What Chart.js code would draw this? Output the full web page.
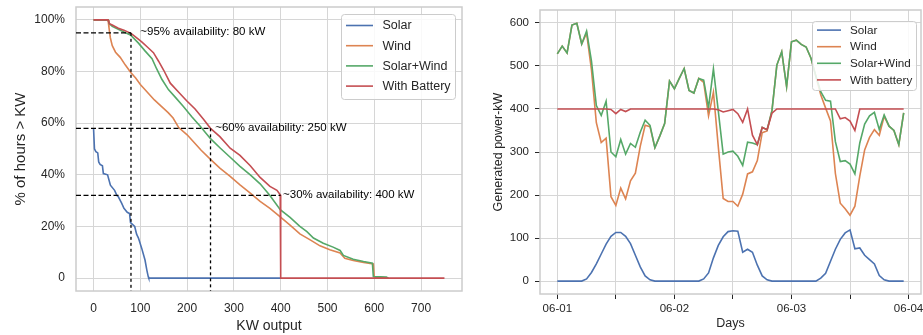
<!DOCTYPE html>
<html>
<head>
<meta charset="utf-8">
<script src="https://cdn.jsdelivr.net/npm/chart.js@4.4.1/dist/chart.umd.min.js"></script>
<style>
  html, body { margin: 0; padding: 0; background: #fff; }
  #wrap { position: relative; width: 923px; height: 335px; }
  #left { position: absolute; left: 0; top: 0; width: 470px; height: 335px; }
  #right { position: absolute; left: 470px; top: 0; width: 453px; height: 335px; }
</style>
</head>
<body>
<div id="wrap">
  <canvas id="left" width="470" height="335"></canvas>
  <canvas id="right" width="453" height="335"></canvas>
</div>
<script>
// ---- left: duration curves (kW output vs % of hours above it) ----
const solarKw  = [0, 2, 5, 9, 11, 14, 19, 21, 30, 33, 36, 45, 50, 53, 60, 65, 72, 77, 79, 88, 92, 96, 103, 110, 114, 117, 118, 400];
const solarPct = [58, 50, 49, 48.5, 45, 44, 43.5, 40.5, 40, 38, 36, 34, 32, 31.5, 29, 27, 25.5, 25, 21.5, 20, 17, 15.5, 11.5, 7, 3, 0.5, 0, 0];

const windKw  = [0, 31, 33, 36, 40, 47, 57, 68, 80, 90, 100, 115, 130, 145, 160, 170, 182, 200, 215, 230, 250, 270, 292, 313, 335, 356, 377, 399, 420, 441, 463, 484, 505, 527, 537, 555, 577, 598, 600, 630];
const windPct = [100, 100, 97, 93, 90, 87.5, 85.5, 82.5, 79.5, 77.5, 75, 72, 69, 66.5, 64, 62, 58.3, 55.5, 52.5, 49.5, 46, 42.6, 39.4, 36.1, 32.9, 29.7, 27, 23.7, 20.5, 17.1, 14.8, 12.5, 11, 9.7, 7.7, 6.8, 6.1, 5.5, 0.4, 0];

const solarWindKw  = [0, 31, 34, 40, 53, 65, 80, 96, 110, 125, 135, 146, 160, 175, 192, 210, 228, 250, 270, 292, 313, 335, 356, 377, 399, 420, 441, 456, 470, 491, 512, 527, 534, 555, 577, 596, 598, 626, 630];
const solarWindPct = [100, 100, 98.5, 97.5, 96.4, 95.3, 94, 91, 88, 85, 81, 77, 73, 70, 66.5, 62.5, 58.8, 54, 50.5, 46.8, 43.3, 40, 36.5, 32, 26.5, 23.5, 20, 18, 15.5, 13.5, 12, 10.7, 8.8, 7.3, 6.4, 5.8, 0.6, 0.4, 0];

const batteryKw  = [0, 31, 34, 40, 53, 65, 80, 89, 103, 115, 128, 139, 150, 164, 182, 199, 217, 235, 250, 270, 292, 313, 335, 356, 377, 392, 399, 400, 750];
const batteryPct = [100, 100, 98.5, 98, 96.8, 96, 94.8, 93.5, 91.5, 89.5, 87.3, 84, 80.5, 75.5, 72, 68.7, 65.5, 61.5, 58, 54.8, 50.3, 47.5, 43.5, 39, 35.5, 34, 32.3, 0, 0];

// availability guides
const guideKw   = [80, 250, 400];
const guidePct  = [95, 58, 32];
const guideDrop = [true, true, false];
const noteKw    = [100, 260, 405];
const notePct   = [95, 58, 32];
const noteText  = ['~95% availability: 80 kW', '~60% availability: 250 kW', '~30% availability: 400 kW'];

const kwTicks   = [0, 100, 200, 300, 400, 500, 600, 700];
const pctTicks  = [0, 20, 40, 60, 80, 100];
const pctLabels = ['0', '20%', '40%', '60%', '80%', '100%'];

// ---- right: hourly generation, 06-01 .. 06-03 ----
const hours = Array.from({ length: 72 }, (_, i) => i);
const solar = [0, 0, 0, 0, 0, 0, 5, 20, 40, 63, 86, 104,
  113, 113, 104, 87, 60, 33, 12, 3, 0, 0, 0, 0,
  0, 0, 0, 0, 0, 0, 5, 19, 54, 83, 103, 115,
  117, 116, 67, 74, 67, 37, 12, 3, 0, 0, 0, 0,
  0, 0, 0, 0, 0, 0, 7, 18, 46, 74, 97, 112,
  119, 75, 77, 60, 50, 40, 13, 3, 0, 0, 0, 0];
const wind = [528, 546, 530, 595, 599, 551, 576, 491, 368, 322, 332, 196,
  176, 216, 191, 233, 251, 313, 362, 359, 310, 337, 366, 465,
  447, 471, 494, 443, 437, 471, 462, 384, 439, 312, 192, 185,
  185, 174, 202, 249, 254, 280, 345, 349, 396, 502, 533, 452,
  556, 560, 550, 544, 518, 476, 433, 402, 372, 250, 181, 168,
  153, 174, 244, 305, 334, 352, 339, 383, 360, 350, 317, 391];
const solarWind = [528, 546, 530, 595, 599, 551, 581, 511, 408, 385, 418, 300,
  289, 329, 295, 320, 311, 346, 374, 362, 310, 337, 366, 465,
  447, 471, 494, 443, 437, 471, 467, 403, 493, 395, 295, 300,
  302, 290, 269, 323, 321, 317, 357, 352, 396, 502, 533, 452,
  556, 560, 550, 544, 518, 476, 440, 420, 418, 324, 278, 280,
  272, 249, 321, 365, 384, 392, 352, 386, 360, 350, 317, 391];
const battery = [400, 400, 400, 400, 400, 400, 400, 400, 400, 400, 400, 399,
  389, 399, 394, 400, 400, 400, 400, 400, 400, 400, 400, 400,
  400, 400, 400, 400, 400, 400, 400, 400, 400, 398, 393, 396,
  399, 389, 369, 400, 339, 317, 357, 352, 390, 400, 400, 400,
  400, 400, 400, 400, 400, 400, 400, 400, 400, 400, 377, 380,
  372, 350, 400, 400, 400, 400, 400, 400, 400, 400, 400, 400];

const hourTicks = [0, 12, 24, 36, 48, 60, 72];
const dayLabels = ['06-01', '', '06-02', '', '06-03', '', '06-04'];
const powerTicks = [0, 100, 200, 300, 400, 500, 600];

const FONT = "'Liberation Sans', Arial, sans-serif";
const TEXT = '#262626';
const GRID = '#d6d6d6';
const colors = { solar: '#4c72b0', wind: '#dd8452', solarWind: '#55a868', battery: '#c44e52' };

Chart.defaults.font.family = FONT;
Chart.defaults.color = TEXT;
Chart.defaults.animation = false;

function pts(xs, ys) {
  return xs.map((x, i) => ({ x: x, y: ys[i] }));
}

function series(label, data, color, order) {
  return { label: label, data: data, borderColor: color, backgroundColor: color,
    borderWidth: 1.6, pointRadius: 0, tension: 0, fill: false, order: order };
}

// fixed axis box, and no extra padding for the end labels
function fixBox(size) {
  return ax => {
    if (ax.isHorizontal()) ax.height = size; else ax.width = size;
    ax.paddingTop = 0; ax.paddingBottom = 0; ax.paddingLeft = 0; ax.paddingRight = 0;
  };
}

// light grey box round the plot area
const frame = {
  id: 'frame',
  beforeDatasetsDraw(chart) {
    const { ctx, chartArea: a } = chart;
    ctx.save();
    ctx.strokeStyle = '#cccccc';
    ctx.lineWidth = 1.5;
    ctx.strokeRect(a.left, a.top, a.right - a.left, a.bottom - a.top);
    ctx.restore();
  }
};

// matplotlib-style legend inside the axes, upper right
const boxLegend = {
  id: 'boxLegend',
  afterDraw(chart, args, o) {
    const { ctx, chartArea: a } = chart;
    const left = Math.round(a.right - o.right - o.width) + 0.5;
    const top = Math.round(a.top + o.top) + 0.5;
    ctx.save();
    ctx.beginPath();
    if (ctx.roundRect) ctx.roundRect(left, top, o.width, o.height, 3);
    else ctx.rect(left, top, o.width, o.height);
    ctx.fillStyle = 'rgba(255,255,255,0.85)';
    ctx.fill();
    ctx.strokeStyle = '#cccccc';
    ctx.lineWidth = 1;
    ctx.stroke();
    ctx.font = o.fontSize + 'px ' + FONT;
    ctx.textBaseline = 'middle';
    chart.data.datasets.filter(d => d.label).forEach((d, i) => {
      const y = top + o.first + i * o.step;
      ctx.beginPath();
      ctx.moveTo(left + o.handleX, y);
      ctx.lineTo(left + o.handleX + o.handleLen, y);
      ctx.strokeStyle = d.borderColor;
      ctx.lineWidth = 1.6;
      ctx.stroke();
      ctx.fillStyle = TEXT;
      ctx.fillText(d.label, left + o.textX, y + 0.5);
    });
    ctx.restore();
  }
};

// availability notes next to the guide corners
const notes = {
  id: 'notes',
  afterDatasetsDraw(chart) {
    const { ctx, scales } = chart;
    ctx.save();
    ctx.font = '11.5px ' + FONT;
    ctx.fillStyle = '#000';
    ctx.textBaseline = 'middle';
    noteText.forEach((t, i) => {
      ctx.fillText(t, scales.x.getPixelForValue(noteKw[i]), scales.y.getPixelForValue(notePct[i]) - 1);
    });
    ctx.restore();
  }
};

// ---------- left chart ----------
const leftSets = [
  series('Solar', pts(solarKw, solarPct), colors.solar, 4),
  series('Wind', pts(windKw, windPct), colors.wind, 3),
  series('Solar+Wind', pts(solarWindKw, solarWindPct), colors.solarWind, 2),
  series('With Battery', pts(batteryKw, batteryPct), colors.battery, 1)
];
guideKw.forEach((kw, i) => {
  const dash = { borderColor: '#000', borderWidth: 1.3, pointRadius: 0, fill: false, order: 0 };
  leftSets.push(Object.assign({ data: [{ x: -37.5, y: guidePct[i] }, { x: kw, y: guidePct[i] }], borderDash: [5, 2.5] }, dash));
  if (guideDrop[i]) {
    leftSets.push(Object.assign({ data: [{ x: kw, y: guidePct[i] }, { x: kw, y: -5 }], borderDash: [3, 3] }, dash));
  }
});

new Chart(document.getElementById('left'), {
  type: 'line',
  data: { datasets: leftSets },
  plugins: [frame, notes, boxLegend],
  options: {
    responsive: false,
    layout: { padding: { top: 7, right: 8, left: 0, bottom: 0 } },
    plugins: {
      legend: { display: false },
      tooltip: { enabled: false },
      boxLegend: { right: 7, top: 7, width: 114, height: 85, handleX: 4.5, handleLen: 27, textX: 41, first: 11, step: 20.2, fontSize: 12.5 }
    },
    scales: {
      x: {
        type: 'linear', min: -37.5, max: 787.5,
        afterBuildTicks: ax => { ax.ticks = kwTicks.map(v => ({ value: v })); },
        afterFit: fixBox(44),
        grid: { color: GRID, lineWidth: 1, drawTicks: false },
        border: { display: false },
        ticks: { color: TEXT, font: { size: 12 }, padding: 10, maxRotation: 0, autoSkip: false },
        title: { display: true, text: 'KW output', color: TEXT, font: { size: 14 }, padding: 0 }
      },
      y: {
        type: 'linear', min: -5, max: 105,
        afterBuildTicks: ax => { ax.ticks = pctTicks.map(v => ({ value: v })); },
        afterFit: fixBox(76),
        grid: { color: GRID, lineWidth: 1, drawTicks: false },
        border: { display: false },
        ticks: { color: TEXT, font: { size: 12 }, padding: 11, autoSkip: false, callback: (v, i) => pctLabels[i] },
        title: { display: true, text: '% of hours > KW', color: TEXT, font: { size: 15 }, padding: { top: 12, bottom: 0 } }
      }
    }
  }
});

// ---------- right chart ----------
new Chart(document.getElementById('right'), {
  type: 'line',
  data: {
    datasets: [
      series('Solar', pts(hours, solar), colors.solar, 4),
      series('Wind', pts(hours, wind), colors.wind, 3),
      series('Solar+Wind', pts(hours, solarWind), colors.solarWind, 2),
      series('With battery', pts(hours, battery), colors.battery, 1)
    ]
  },
  plugins: [frame, boxLegend],
  options: {
    responsive: false,
    layout: { padding: { top: 10, right: 2, left: 0, bottom: 0 } },
    plugins: {
      legend: { display: false },
      tooltip: { enabled: false },
      boxLegend: { right: 5, top: 10.5, width: 104, height: 69, handleX: 4.5, handleLen: 24, textX: 37.5, first: 8.6, step: 16.6, fontSize: 11.7 }
    },
    scales: {
      x: {
        type: 'linear', min: -3.55, max: 74.55,
        afterBuildTicks: ax => { ax.ticks = hourTicks.map(v => ({ value: v })); },
        afterFit: fixBox(41),
        grid: { color: GRID, lineWidth: 1, drawTicks: true, tickLength: 5, tickColor: TEXT, tickWidth: 1 },
        border: { display: false },
        ticks: { color: TEXT, font: { size: 11.5 }, padding: 3, maxRotation: 0, autoSkip: false, callback: (v, i) => dayLabels[i] },
        title: { display: true, text: 'Days', color: TEXT, font: { size: 12.5 }, padding: { top: 0, bottom: 4 } }
      },
      y: {
        type: 'linear', min: -30, max: 630,
        afterBuildTicks: ax => { ax.ticks = powerTicks.map(v => ({ value: v })); },
        afterFit: fixBox(70),
        grid: { color: GRID, lineWidth: 1, drawTicks: true, tickLength: 5, tickColor: TEXT, tickWidth: 1 },
        border: { display: false },
        ticks: { color: TEXT, font: { size: 11.5 }, padding: 6, autoSkip: false },
        title: { display: true, text: 'Generated power-kW', color: TEXT, font: { size: 12.5 }, padding: { top: 21, bottom: 0 } }
      }
    }
  }
});
</script>
</body>
</html>
